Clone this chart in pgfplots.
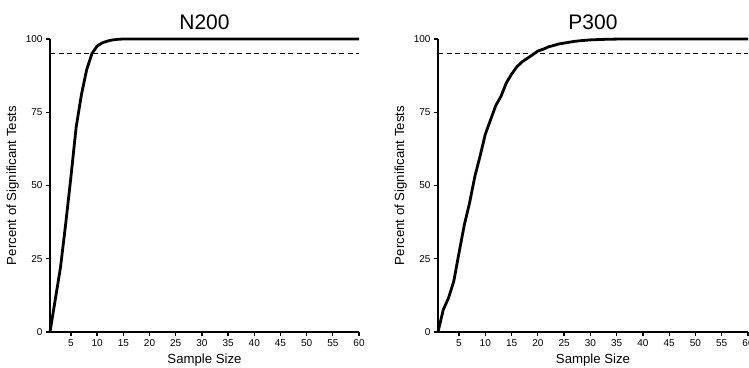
\documentclass[border=0pt]{standalone}
\usepackage{fontspec}
\setmainfont{Liberation Sans}
\usepackage{pgfplots}
\pgfplotsset{compat=1.18}
\pgfplotsset{
  myax/.style={
    scale only axis,
    width=309pt, height=293pt,
    anchor=south west,
    xmin=1, xmax=60, ymin=0, ymax=100,
    axis lines=left,
    axis line style={line width=1.8pt, -},
    xtick={5,10,...,60},
    ytick={0,25,50,75,100},
    tick align=outside,
    major tick length=4pt,
    tick style={line width=1.3pt, black},
    /pgf/number format/assume math mode=true,
    ticklabel style={font=\fontsize{10}{10}\selectfont},
    xlabel={Sample Size},
    ylabel={Percent of Significant Tests},
    label style={font=\fontsize{13.2}{13.2}\selectfont},
    title style={font=\fontsize{21}{21}\selectfont},
    clip=false,
  }
}
\begin{document}
\begin{tikzpicture}
\begin{axis}[myax, at={(50pt,35pt)}, title={N200}]
\addplot[black, line width=1.4pt, dash pattern=on 5pt off 3.5pt] coordinates {(1,95) (60,95)};
\addplot[black, line width=2.8pt, line join=round] coordinates {
(1,0) (2,11) (3,22) (4,37) (5,53) (6,70) (7,81) (8,89.5) (9,95) (10,97.6)
(11,98.7) (12,99.3) (13,99.7) (14,99.9) (15,100) (20,100) (30,100) (40,100) (50,100) (60,100)};
\end{axis}
\begin{axis}[myax, at={(438pt,35pt)}, width=310pt, title={P300}]
\addplot[black, line width=1.4pt, dash pattern=on 5pt off 3.5pt] coordinates {(1,95) (60,95)};
\addplot[black, line width=2.8pt, line join=round] coordinates {
(1,0) (2,7.6) (3,11.6) (4,17.3) (5,27) (6,36.5) (7,44) (8,53) (9,60) (10,67.5)
(11,72.4) (12,77.3) (13,80.5) (14,85) (15,88) (16,90.5) (17,92.2) (18,93.4) (19,94.6) (20,95.9)
(21,96.5) (22,97.3) (23,97.8) (24,98.3) (25,98.6) (26,98.9) (27,99.2) (28,99.4) (30,99.7) (33,99.9) (36,100) (40,100) (50,100) (60,100)};
\end{axis}
\pgfresetboundingbox
\useasboundingbox (0,0) rectangle (749pt,367pt);
\end{tikzpicture}
\end{document}
